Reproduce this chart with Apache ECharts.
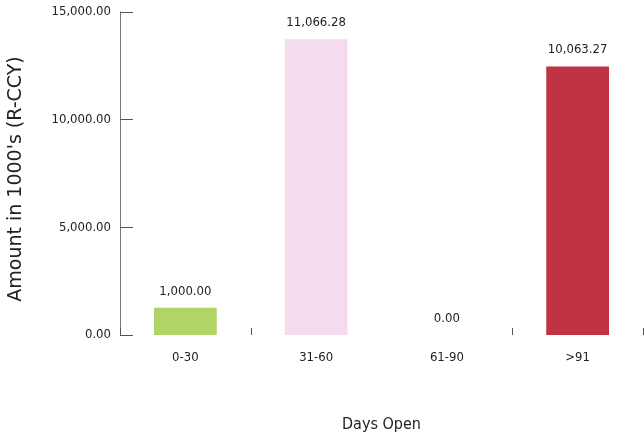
<!DOCTYPE html>
<html>
<head>
<meta charset="utf-8">
<script src="https://cdn.jsdelivr.net/npm/echarts@6/dist/echarts.min.js"></script>
<style>
  html, body { margin: 0; padding: 0; background: #fff; }
  #chart { width: 644px; height: 438px; }
</style>
</head>
<body>
<div id="chart"></div>
<script>
// buckets on the x axis
const categories = ['0-30', '31-60', '61-90', '>91']
// bar heights as drawn in the picture
const barValues = [1270, 13740, 0, 12470]
// value labels printed above each bar
const barLabels = ['1,000.00', '11,066.28', '0.00', '10,063.27']
const barColors = ['#b1d467', '#f5dbee', '#f5dbee', '#c03344']
// y axis ticks
const yTicks = [0, 5000, 10000, 15000]

const fmt = v => v.toLocaleString('en-US', { minimumFractionDigits: 2, maximumFractionDigits: 2 })
const textFont = "'DejaVu Sans Condensed', sans-serif"

const chart = echarts.init(document.getElementById('chart'), null, { renderer: 'canvas' })

chart.setOption({
  animation: false,
  grid: { left: 120, right: 1, top: 12, bottom: 103, outerBoundsMode: 'none', containLabel: false },
  xAxis: {
    type: 'category',
    data: categories,
    name: 'Days Open',
    nameLocation: 'middle',
    nameGap: 82,
    nameTextStyle: { color: '#222', fontSize: 16, fontFamily: textFont },
    axisLine: { show: false },
    axisTick: {
      show: true,
      inside: true,
      length: 7,
      interval: (idx) => idx !== 2,
      lineStyle: { color: '#555', width: 1 },
    },
    axisLabel: { color: '#222', fontSize: 13, margin: 16, fontFamily: textFont },
  },
  yAxis: {
    type: 'value',
    min: yTicks[0],
    max: yTicks[yTicks.length - 1],
    interval: 5000,
    name: "Amount in 1000's (R-CCY)",
    nameLocation: 'middle',
    nameGap: 94,
    nameRotate: 90,
    nameTextStyle: { color: '#222', fontSize: 19, fontFamily: "'DejaVu Sans', sans-serif", padding: [0, 11, 0, 0] },
    axisLine: { show: true, lineStyle: { color: '#777', width: 1 } },
    axisTick: { show: true, inside: true, length: 13, lineStyle: { color: '#555' } },
    splitLine: { show: false },
    axisLabel: { color: '#222', fontSize: 13, margin: 9, fontFamily: textFont, formatter: fmt },
  },
  series: [{
    type: 'bar',
    barWidth: '48%',
    data: barValues.map((v, i) => ({ value: v, itemStyle: { color: barColors[i] } })),
    label: {
      show: true,
      position: 'top',
      distance: 10,
      color: '#222',
      fontSize: 13,
      fontFamily: textFont,
      formatter: p => barLabels[p.dataIndex],
    },
  }],
})
</script>
</body>
</html>
